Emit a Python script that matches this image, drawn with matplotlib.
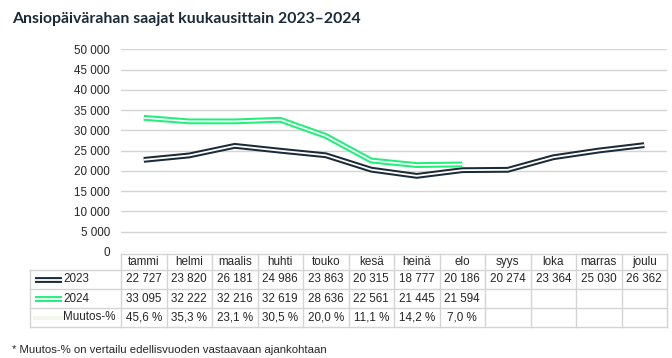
import matplotlib
matplotlib.use("Agg")
import matplotlib.pyplot as plt
from matplotlib.lines import Line2D
from matplotlib.transforms import blended_transform_factory

months = ["tammi", "helmi", "maalis", "huhti", "touko", "kesä", "heinä", "elo",
          "syys", "loka", "marras", "joulu"]
v2023 = [22727, 23820, 26181, 24986, 23863, 20315, 18777, 20186, 20274, 23364, 25030, 26362]
v2024 = [33095, 32222, 32216, 32619, 28636, 22561, 21445, 21594]
muutos = [45.6, 35.3, 23.1, 30.5, 20.0, 11.1, 14.2, 7.0]
yticks = list(range(0, 50001, 5000))

title = "Ansiopäivärahan saajat kuukausittain 2023–2024"
footnote = "* Muutos-% on vertailu edellisvuoden vastaavaan ajankohtaan"

W, H = 672, 358
C_DARK = "#1b2a38"
C_GREEN = "#1ef07a"
C_GRID = "#d4d4d4"
C_TEXT = "#262626"
FONT = ["Liberation Sans", "DejaVu Sans"]
plt.rcParams["font.family"] = FONT

def fmt(n):
    return f"{n:,}".replace(",", " ")

def fx(px):
    return px / W

def fy(px):
    return 1 - px / H

fig = plt.figure(figsize=(W / 100, H / 100), dpi=100)
fig.patch.set_facecolor("white")
ax = fig.add_axes([fx(121), fy(252), fx(667) - fx(121), fy(49.3) - fy(252)])
ax.set_xlim(-0.5, len(months) - 0.5)
ax.set_ylim(0, 50000)
ax.set_yticks(yticks)
ax.set_yticklabels([fmt(t) for t in yticks], fontsize=8.4, color=C_TEXT)
ax.tick_params(axis="y", length=0, pad=8)
ax.set_xticks([])
for s in ax.spines.values():
    s.set_visible(False)
ax.grid(axis="y", color=C_GRID, linewidth=1)
ax.set_axisbelow(True)

x23 = list(range(len(v2023)))
x24 = list(range(len(v2024)))
kw = dict(solid_joinstyle="miter", solid_capstyle="butt")
ax.plot(x23, v2023, color=C_DARK, linewidth=4.2, zorder=3, **kw)
ax.plot(x23, v2023, color="white", linewidth=1.3, zorder=4, **kw)
ax.plot(x24, v2024, color=C_GREEN, linewidth=4.2, zorder=3, **kw)
ax.plot(x24, v2024, color="white", linewidth=1.3, zorder=4, **kw)

fig.text(fx(12), fy(19), title, fontsize=11.4, fontweight="bold", color=C_DARK,
         family=["Liberation Sans Narrow", "Lato", "DejaVu Sans"], va="center", ha="left")
fig.text(fx(12), fy(350), footnote, fontsize=8.2, color=C_TEXT, va="center", ha="left")

# --- data table ---
tb = blended_transform_factory(ax.transData, fig.transFigure)
row_lines = [254, 270, 289, 308, 327]
row_centers = [262, 279.5, 298.5, 317.5]
n = len(months)
left_px = 30
fig.add_artist(Line2D([fx(121), fx(667)], [fy(254), fy(254)], color=C_GRID, lw=1, transform=fig.transFigure))
for yl in row_lines[1:]:
    fig.add_artist(Line2D([fx(left_px), fx(667)], [fy(yl), fy(yl)], color=C_GRID, lw=1, transform=fig.transFigure))
for i in range(n + 1):
    fig.add_artist(Line2D([i - 0.5, i - 0.5], [fy(254), fy(327)], color=C_GRID, lw=1, transform=tb))
fig.add_artist(Line2D([fx(left_px), fx(left_px)], [fy(270), fy(327)], color=C_GRID, lw=1, transform=fig.transFigure))

tfs = 8.4
for i, m in enumerate(months):
    fig.text(i, fy(row_centers[0]), m, transform=tb, ha="center", va="center", fontsize=tfs, color=C_TEXT)
for i, v in enumerate(v2023):
    fig.text(i, fy(row_centers[1]), fmt(v), transform=tb, ha="center", va="center", fontsize=tfs, color=C_TEXT)
for i, v in enumerate(v2024):
    fig.text(i, fy(row_centers[2]), fmt(v), transform=tb, ha="center", va="center", fontsize=tfs, color=C_TEXT)
for i, v in enumerate(muutos):
    fig.text(i, fy(row_centers[3]), f"{v:.1f} %".replace(".", ","), transform=tb, ha="center", va="center",
             fontsize=tfs, color=C_TEXT)

labels = ["2023", "2024", "Muutos-%"]
keys = [C_DARK, C_GREEN, "#f3f6ea"]
for lab, col, yc in zip(labels, keys, row_centers[1:]):
    if lab == "Muutos-%":
        fig.add_artist(Line2D([fx(35), fx(62)], [fy(yc), fy(yc)], color=col, lw=3, transform=fig.transFigure))
    else:
        fig.add_artist(Line2D([fx(35), fx(62)], [fy(yc), fy(yc)], color=col, lw=4.2,
                              solid_capstyle="butt", transform=fig.transFigure))
        fig.add_artist(Line2D([fx(35), fx(62)], [fy(yc), fy(yc)], color="white", lw=1.3,
                              solid_capstyle="butt", transform=fig.transFigure))
    fig.text(fx(63), fy(yc), lab, ha="left", va="center", fontsize=tfs, color=C_TEXT)

fig.savefig("out.png", dpi=100, facecolor="white")
